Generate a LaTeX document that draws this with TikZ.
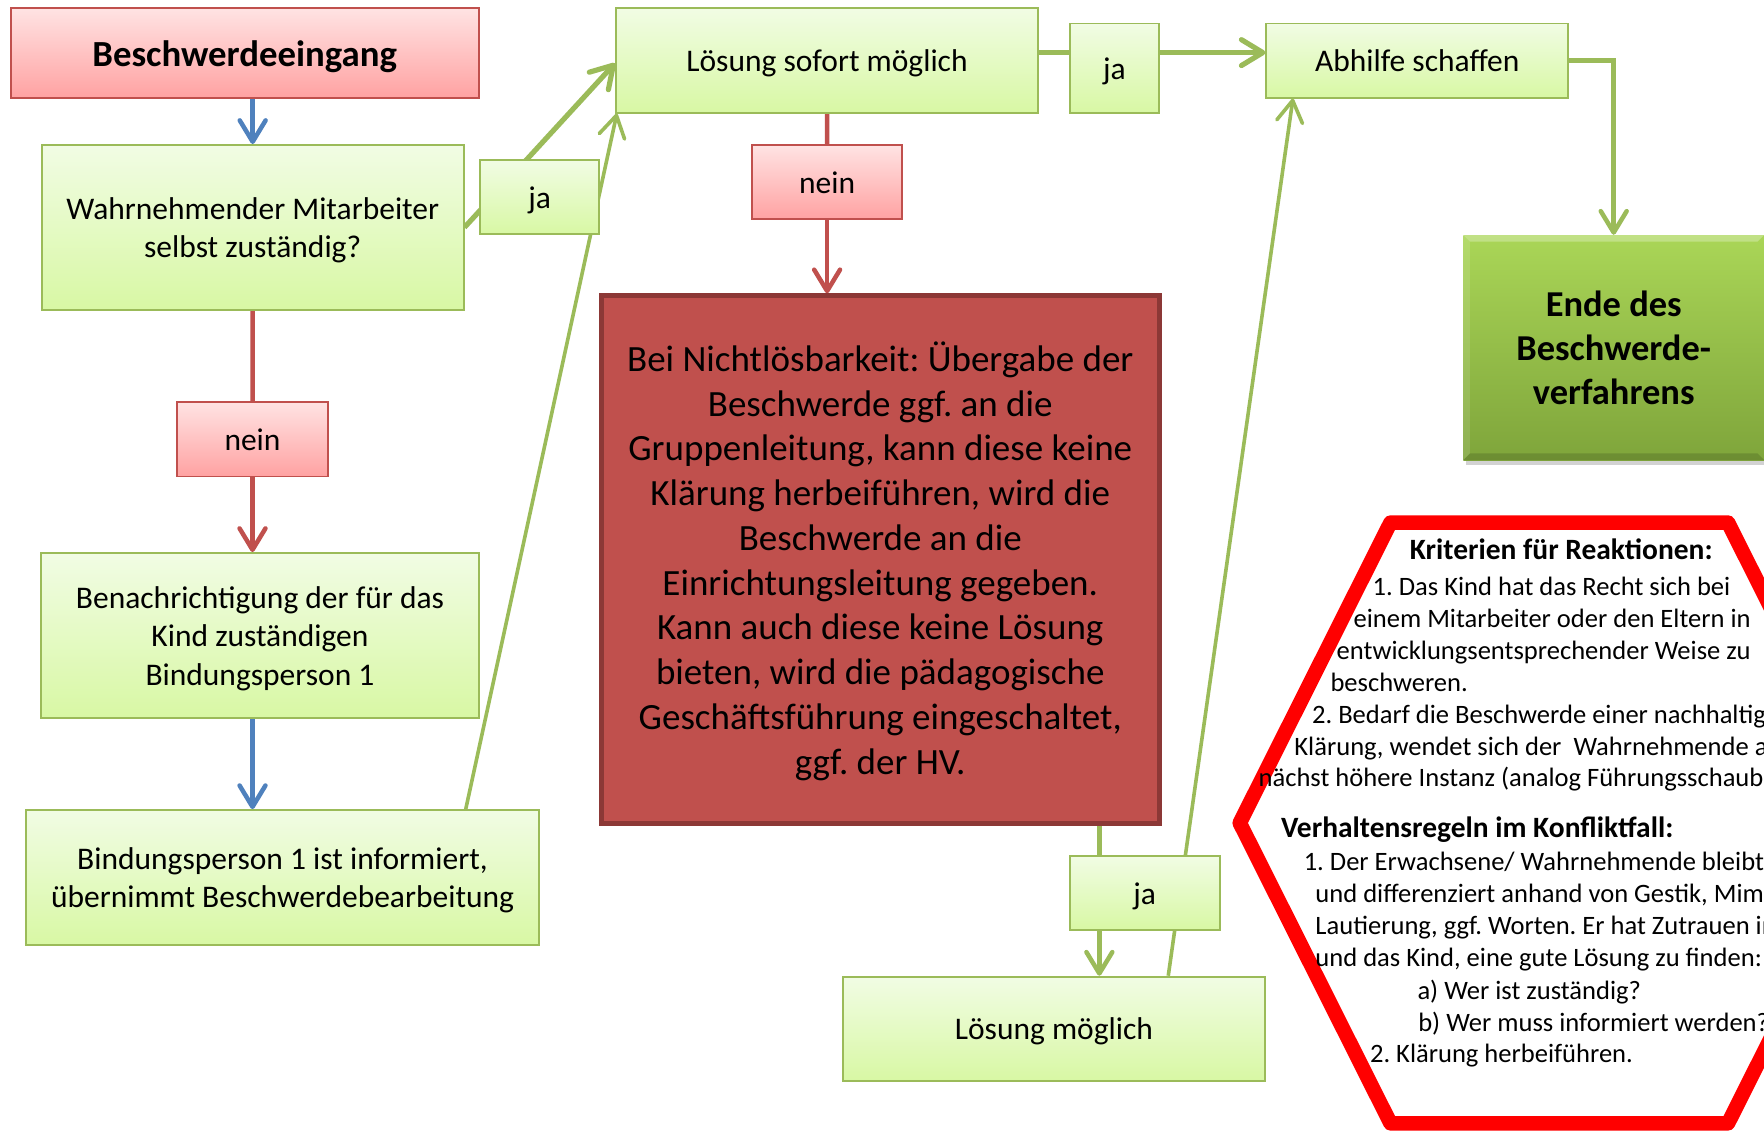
\documentclass[tikz,border=0pt]{standalone}
\usepackage{fontspec}
\setmainfont{Carlito}
\usetikzlibrary{arrows.meta,shadows}
\definecolor{gtop}{HTML}{F1FCE4}
\definecolor{gbot}{HTML}{D8F8A4}
\definecolor{gline}{HTML}{9BBB59}
\definecolor{ptop}{HTML}{FFE3E3}
\definecolor{pbot}{HTML}{FFA2A2}
\definecolor{pline}{HTML}{C0504D}
\definecolor{bigfill}{HTML}{C0504D}
\definecolor{bigline}{HTML}{8C3836}
\definecolor{etop}{HTML}{AAD657}
\definecolor{ebot}{HTML}{7FA53B}
\definecolor{blueline}{HTML}{4F81BD}
\definecolor{hexred}{HTML}{FF0000}
\pgfdeclarelayer{back}
\pgfdeclarelayer{bg}
\pgfsetlayers{back,bg,main}
\newcommand{\tstr}{\rule[-0.25em]{0pt}{1.21em}}
\begin{document}
\frenchspacing
\begin{tikzpicture}[x=1pt,y=-1pt,
 gbox/.style={draw=gline, line width=1.6pt, top color=gtop, bottom color=gbot, inner sep=0pt, align=center, font=\fontsize{28}{34.2}\selectfont},
 pbox/.style={draw=pline, line width=1.6pt, top color=ptop, bottom color=pbot, inner sep=0pt, align=center, font=\fontsize{28}{34.2}\selectfont},
 arr/.style={-{Straight Barb[length=19pt,width=23pt,line cap=round,line join=round]}},
 conn/.style={line width=4pt},
 gconn/.style={line width=4.6pt},
 thinconn/.style={line width=3.2pt},
 hextext/.style={anchor=base west, inner sep=0pt, font=\fontsize{23.6}{28.8}\selectfont},
 hexhead/.style={anchor=base west, inner sep=0pt, font=\fontsize{26.2}{28.8}\selectfont\bfseries},
]
\useasboundingbox (0,0) rectangle (1568,1005);
\begin{pgfonlayer}{back}
\fill[white] (0,0) rectangle (1568,1005);
\end{pgfonlayer}
\clip (0,0) rectangle (1568,1005);

% left column
\node[pbox, minimum width=416pt, minimum height=79.6pt, font=\fontsize{32.7}{40}\selectfont\bfseries] (besch) at (217.5,47.1) {\tstr Beschwerdeeingang\tstr};
\node[gbox, minimum width=375pt, minimum height=146.6pt] (wahr) at (224.6,202.1) {\tstr Wahrnehmender Mitarbeiter\\selbst zuständig?\tstr};
\node[gbox, minimum width=106pt, minimum height=66pt] (ja1) at (479.75,175.1) {\tstr ja\tstr};
\node[pbox, minimum width=133.7pt, minimum height=66.2pt] (nein1) at (224.45,390.4) {\tstr nein\tstr};
\node[gbox, minimum width=388.8pt, minimum height=146.7pt] (bena) at (231.1,564.85) {\tstr Benachrichtigung der für das\\Kind zuständigen\\Bindungsperson 1\tstr};
\node[gbox, minimum width=456.4pt, minimum height=120.1pt] (bind) at (251.1,780.05) {\tstr Bindungsperson 1 ist informiert,\\übernimmt Beschwerdebearbeitung\tstr};

% middle
\node[gbox, minimum width=375.3pt, minimum height=92.9pt] (sofort) at (735.15,53.75) {\tstr Lösung sofort möglich\tstr};
\node[gbox, minimum width=79.4pt, minimum height=79.4pt] (ja2) at (990.5,60.5) {\tstr ja\tstr};
\node[pbox, minimum width=133.4pt, minimum height=66pt] (nein2) at (735.2,161.8) {\tstr nein\tstr};
\node[draw=bigline, line width=4pt, fill=bigfill, minimum width=496pt, minimum height=469.5pt, inner sep=0pt, align=center, font=\fontsize{32.9}{39.8}\selectfont] (big) at (782.45,497.45) {\tstr Bei Nichtlösbarkeit: Übergabe der\\Beschwerde ggf. an die\\Gruppenleitung, kann diese keine\\Klärung herbeiführen, wird die\\Beschwerde an die\\Einrichtungsleitung gegeben.\\Kann auch diese keine Lösung\\bieten, wird die pädagogische\\Geschäftsführung eingeschaltet,\\ggf. der HV.\tstr};
\node[gbox, minimum width=133.4pt, minimum height=65.7pt] (ja3) at (1017.5,793.65) {\tstr ja\tstr};
\node[gbox, minimum width=375.3pt, minimum height=92.6pt] (moeglich) at (936.85,914.4) {\tstr Lösung möglich\tstr};

% right
\node[gbox, minimum width=268.3pt, minimum height=66pt] (abhilfe) at (1259.75,53.9) {\tstr Abhilfe schaffen\tstr};
\node[top color=etop, bottom color=ebot, minimum width=267.2pt, minimum height=200pt, inner sep=0pt, align=center, font=\fontsize{32.4}{39.3}\selectfont\bfseries, drop shadow={opacity=0.35, shadow xshift=2pt, shadow yshift=-4pt}] (ende) at (1434.4,308.9) {\tstr Ende des\\Beschwerde-\\verfahrens\tstr};
% bevel of the end box
\fill[white, opacity=0.28] (ende.north west) -- (ende.north east) -- ([xshift=-6pt,yshift=-6pt]ende.north east) -- ([xshift=6pt,yshift=-6pt]ende.north west) -- cycle;
\fill[white, opacity=0.12] (ende.north west) -- ([xshift=6pt,yshift=-6pt]ende.north west) -- ([xshift=6pt,yshift=6pt]ende.south west) -- (ende.south west) -- cycle;
\fill[black, opacity=0.14] (ende.south west) -- ([xshift=6pt,yshift=6pt]ende.south west) -- ([xshift=-6pt,yshift=6pt]ende.south east) -- (ende.south east) -- cycle;

% connectors
\begin{pgfonlayer}{bg}
\draw[conn, blueline, arr] (wahr.north |- besch.south) -- (wahr.north);
\draw[conn, pline] (wahr.south) -- (nein1.north);
\draw[conn, pline, arr] (nein1.south) -- (nein1.south |- bena.north);
\draw[conn, blueline, arr] (nein1.south |- bena.south) -- (nein1.south |- bind.north);
\draw[gconn, gline, arr] (wahr.east) -- ([yshift=-2.5pt]sofort.west);
\draw[thinconn, gline, arr] ([xshift=162.9pt]bind.north) -- ([xshift=1.6pt]sofort.south west);
\coordinate (h1) at ([yshift=7pt]sofort.east);
\draw[gconn, gline] (h1) -- (h1 -| ja2.west);
\draw[gconn, gline, arr] (h1 -| ja2.east) -- (h1 -| abhilfe.west);
\draw[conn, gline, arr] (abhilfe.east) -| (ende.north);
\draw[conn, pline] (sofort.south) -- (nein2.north);
\draw[conn, pline, arr] (nein2.south) -- (nein2.south |- big.north);
\coordinate (vx) at (977.2,0);
\draw[conn, gline] (big.south -| vx) -- (ja3.north -| vx);
\draw[conn, gline, arr] (ja3.south -| vx) -- (moeglich.north -| vx);
\draw[thinconn, gline, arr] ([xshift=101.6pt]moeglich.north) -- ([xshift=-110.5pt]abhilfe.south);
\end{pgfonlayer}

% hexagon
\draw[hexred, line width=13pt, line join=round] (1102,731.5) -- (1236,464.5) -- (1536,464.5) -- (1670,731.5) -- (1536,998.5) -- (1236,998.5) -- cycle;

\node[hexhead] (k0) at (1253,497.4) {Kriterien für Reaktionen:};
\node[hextext] (k1) at (1220,529.6) {1. Das Kind hat das Recht sich bei};
\node[hextext] (k2) at (1203,558.2) {einem Mitarbeiter oder den Eltern in};
\node[hextext] (k3) at (1188,585.8) {entwicklungsentsprechender Weise zu};
\node[hextext] (k4) at (1182.5,614.3) {beschweren.};
\node[hextext] (k5) at (1166.1,643) {2. Bedarf die Beschwerde einer nachhaltigen};
\node[hextext] (k6) at (1150.4,671.6) {Klärung, wendet sich der\ \ Wahrnehmende an};
\node[hextext] (k7) at (1118.6,699.1) {nächst höhere Instanz (analog Führungsschaubild)};
\node[hexhead] (v0) at (1138.5,744.2) {Verhaltensregeln im Konfliktfall:};
\node[hextext] (v1) at (1158.7,773.5) {1. Der Erwachsene/ Wahrnehmende bleibt};
\node[hextext] (v2) at (1169.1,802.1) {und differenziert anhand von Gestik, Mimik};
\node[hextext] (v3) at (1169.1,830.8) {Lautierung, ggf. Worten. Er hat Zutrauen in};
\node[hextext] (v4) at (1169.1,859.4) {und das Kind, eine gute Lösung zu finden:};
\node[hextext] (v5) at (1259.8,888) {a) Wer ist zuständig?};
\node[hextext] (v6) at (1260.5,916.6) {b) Wer muss informiert werden?};
\node[hextext] (v7) at (1217.6,944.5) {2. Klärung herbeiführen.};
\end{tikzpicture}
\end{document}
